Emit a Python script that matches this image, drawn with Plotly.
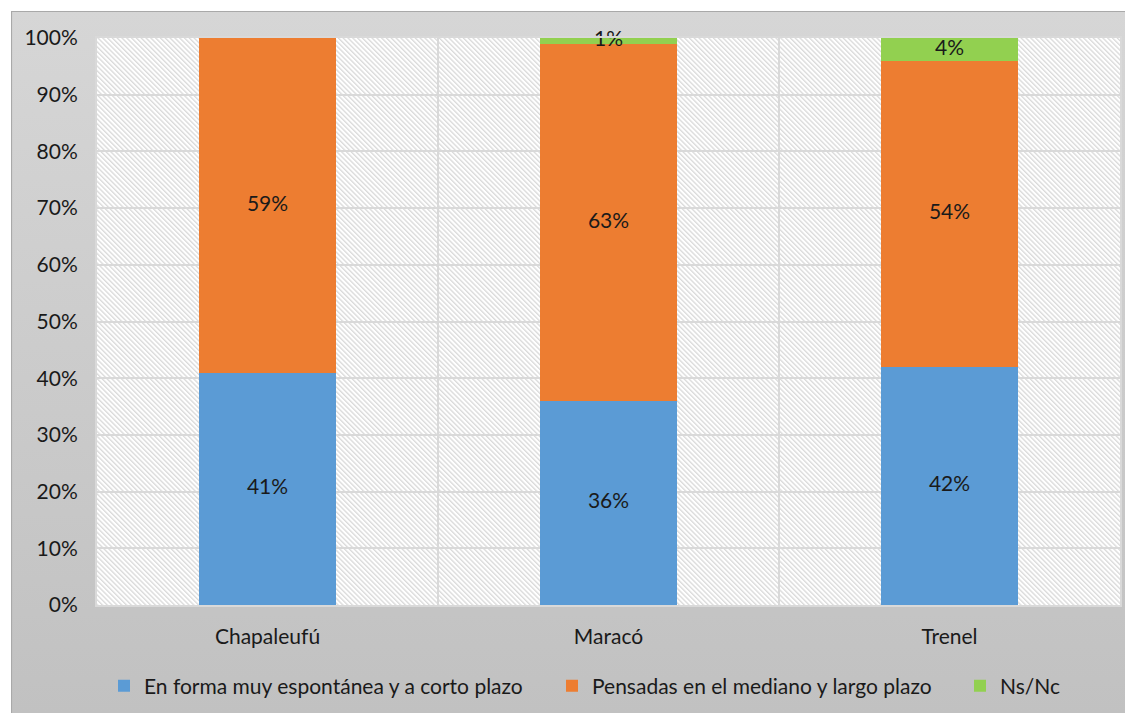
import base64
import plotly.graph_objects as go

categories = ["Chapaleufú", "Maracó", "Trenel"]
series_names = ["En forma muy espontánea y a corto plazo",
                "Pensadas en el mediano y largo plazo",
                "Ns/Nc"]
espontanea = [41, 36, 42]
pensadas = [59, 63, 54]
nsnc = [0, 1, 4]
colors = ["#5B9BD5", "#ED7D31", "#92D050"]
y_ticks = [0, 10, 20, 30, 40, 50, 60, 70, 80, 90, 100]
y_tick_labels = ["0%", "10%", "20%", "30%", "40%", "50%", "60%", "70%", "80%", "90%", "100%"]

OFF = 8  # page body margin
W, H = 1133 - OFF, 713 - OFF
L, R, T = 97 - OFF, 13, 38 - OFF
PW, PH = 1023, 567
B = H - T - PH
FONT = "Lato"
FS = 21
TXT = "#1a1a1a"

legend_ids = ["legend", "legend2", "legend3"]
legend_left_px = [104, 552, 960]  # page px of each legend box's left edge

fig = go.Figure()
series = [espontanea, pensadas, nsnc]
for name, vals, col, lid in zip(series_names, series, colors, legend_ids):
    fig.add_trace(go.Bar(x=categories, y=vals, name=name, marker_color=col,
                         marker_line_width=0, width=0.4, hoverinfo="skip",
                         legend=lid))

# labels at segment centers
lx, ly, lt = [], [], []
for i, c in enumerate(categories):
    base = 0
    for vals in series:
        v = vals[i]
        if v > 0:
            lx.append(c)
            ly.append(base + v / 2)
            lt.append(f"{v}%")
        base += v
fig.add_trace(go.Scatter(x=lx, y=ly, text=lt, mode="text", showlegend=False,
                         textfont=dict(family=FONT, size=FS, color=TXT),
                         cliponaxis=False, hoverinfo="skip"))

def svg_uri(svg):
    return "data:image/svg+xml;base64," + base64.b64encode(svg.encode()).decode()

bx, by = 3, 3
bg_w, bg_h = W - bx, H - by
grad_svg = f'''<svg xmlns="http://www.w3.org/2000/svg" width="{bg_w}" height="{bg_h}">
<defs><linearGradient id="g" x1="0" y1="0" x2="0" y2="1">
<stop offset="0" stop-color="#d6d6d6"/><stop offset="1" stop-color="#c1c1c1"/></linearGradient></defs>
<rect width="{bg_w}" height="{bg_h}" fill="url(#g)"/>
<path d="M0.5,{bg_h} L0.5,0.5 L{bg_w},0.5" stroke="#a9a9a9" stroke-width="1.2" fill="none"/>
</svg>'''

hatch_svg = f'''<svg xmlns="http://www.w3.org/2000/svg" width="{PW}" height="{PH}">
<defs><pattern id="p" patternUnits="userSpaceOnUse" width="3.4" height="3.4" patternTransform="rotate(-45)">
<rect width="3.4" height="3.4" fill="#ffffff"/>
<line x1="0.7" y1="0" x2="0.7" y2="3.4" stroke="#d6d6d6" stroke-width="1.2"/></pattern></defs>
<rect width="{PW}" height="{PH}" fill="url(#p)"/>
</svg>'''

leg_y = 1 - (686 - OFF) / H
legends = {}
for lid, lpx in zip(legend_ids, legend_left_px):
    legends[lid] = dict(orientation="h", xref="container", yref="container",
                        x=(lpx - OFF) / W, xanchor="left", y=leg_y, yanchor="middle",
                        font=dict(family=FONT, size=FS, color=TXT),
                        bgcolor="rgba(0,0,0,0)", itemwidth=30)

fig.update_layout(
    width=W, height=H,
    margin=dict(l=L, r=R, t=T, b=B, pad=0, autoexpand=False),
    barmode="stack",
    paper_bgcolor="#ffffff",
    plot_bgcolor="rgba(0,0,0,0)",
    font=dict(family=FONT, size=FS, color=TXT),
    showlegend=True,
    **legends,
    images=[
        dict(source=svg_uri(grad_svg), xref="paper", yref="paper",
             x=(bx - L) / PW, y=(H - B - by) / PH, sizex=bg_w / PW, sizey=bg_h / PH,
             xanchor="left", yanchor="top", sizing="stretch", layer="below"),
        dict(source=svg_uri(hatch_svg), xref="paper", yref="paper",
             x=0, y=1, sizex=1, sizey=1, xanchor="left", yanchor="top",
             sizing="stretch", layer="below"),
    ],
    xaxis=dict(type="category", tickson="boundaries", showgrid=True,
               gridcolor="#d9d9d9", gridwidth=1.5, ticks="", showline=True,
               linecolor="#d9d9d9", linewidth=2, mirror=True, automargin=False,
               ticklabelstandoff=12, zeroline=False, fixedrange=True),
    yaxis=dict(range=[0, 100], tickmode="array", tickvals=y_ticks, ticktext=y_tick_labels,
               showgrid=True, gridcolor="#d9d9d9", gridwidth=1.5, automargin=False,
               showline=True, linecolor="#d9d9d9", linewidth=2, mirror=True,
               ticks="", ticklabelstandoff=13, zeroline=False, fixedrange=True),
)

fig.write_html("out.html")
